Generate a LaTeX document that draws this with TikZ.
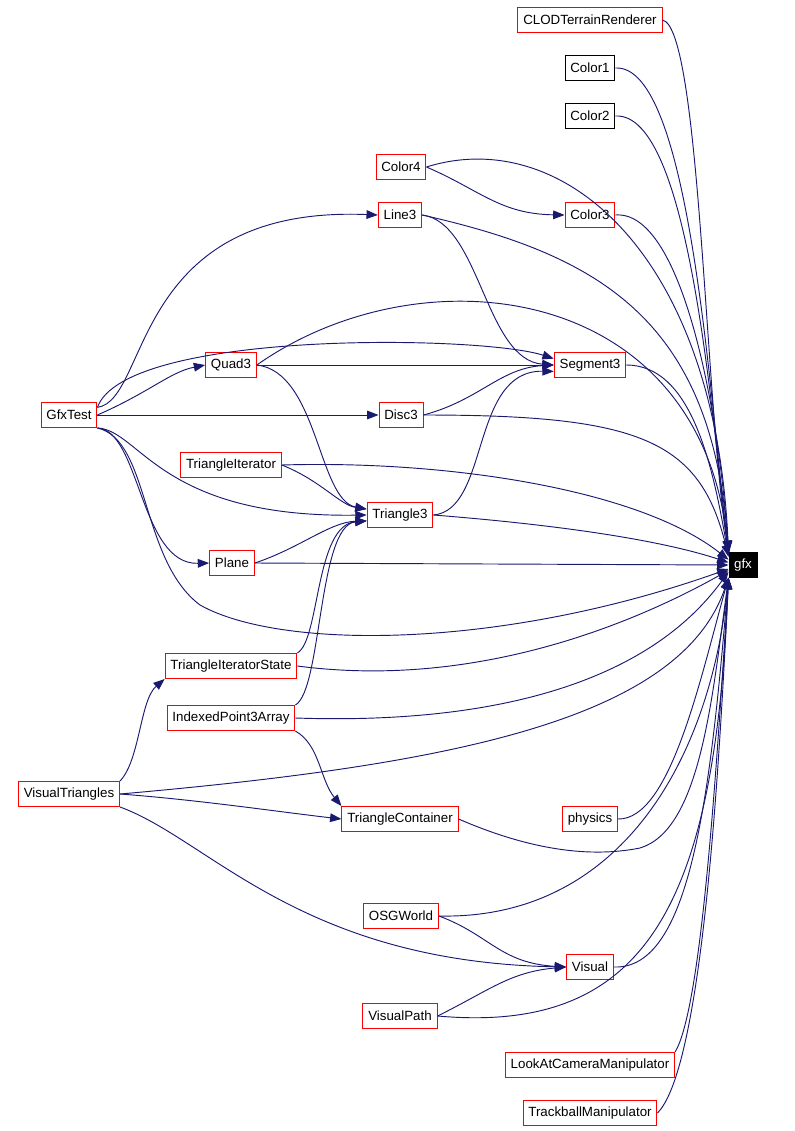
\documentclass[tikz,border=0pt]{standalone}
\usepackage{fontspec}
\setmainfont{Liberation Sans}
\usetikzlibrary{arrows.meta}
\definecolor{edgeblue}{RGB}{25,25,112}
\definecolor{boxred}{RGB}{255,0,0}

\begin{document}
\begin{tikzpicture}[x=0.75pt,y=-0.75pt,
    every node/.style={font=\fontsize{10}{12}\selectfont, inner xsep=4pt, inner ysep=0pt, minimum height=18.75pt},
    cls/.style={draw=boxred, fill=white, line width=0.75pt},
    ext/.style={draw=black, fill=white, line width=0.75pt},
    root/.style={draw=black, fill=black, text=white},
    dep/.style={draw=edgeblue, line width=0.7pt, -{Triangle[length=8.5pt,width=6.5pt]}}]
  \useasboundingbox (0,0) rectangle (795,1131);
  % Used classes
  \node[cls] (clod) at (590,20) {CLODTerrainRenderer};
  \node[ext] (color1) at (590,68) {Color1};
  \node[ext] (color2) at (590,116) {Color2};
  \node[cls] (color4) at (401,167) {Color4};
  \node[cls] (color3) at (590,215) {Color3};
  \node[cls] (line3) at (400,215) {Line3};
  \node[cls] (quad3) at (231,365) {Quad3};
  \node[cls] (segment3) at (590,365) {Segment3};
  \node[cls] (gfxtest) at (69,415) {GfxTest};
  \node[cls] (disc3) at (401,415) {Disc3};
  \node[cls] (triiter) at (231,465) {TriangleIterator};
  \node[cls] (triangle3) at (400,515) {Triangle3};
  \node[cls] (plane) at (232,563) {Plane};
  \node[root] (gfx) at (743,565) {gfx};
  \node[cls] (tristate) at (231,666) {TriangleIteratorState};
  \node[cls] (indexed) at (231,718) {IndexedPoint3Array};
  \node[cls] (vistri) at (69,794) {VisualTriangles};
  \node[cls] (tricont) at (400,819) {TriangleContainer};
  \node[cls] (physics) at (590,819) {physics};
  \node[cls] (osgworld) at (401,916) {OSGWorld};
  \node[cls] (visual) at (590,967) {Visual};
  \node[cls] (vispath) at (400,1016) {VisualPath};
  \node[cls] (lookat) at (590,1065) {LookAtCameraManipulator};
  \node[cls] (trackball) at (590,1113) {TrackballManipulator};
  % Dependencies between the classes
  \draw[dep] (color4.east) .. controls (480,190) and (500,214) .. (color3.west);
  \draw[dep] (gfxtest.15) .. controls (150,400) and (130,205) .. (line3.west);
  \draw[dep] (gfxtest.east) .. controls (150,392) and (170,372) .. (quad3.west);
  \draw[dep] (gfxtest.15) .. controls (125,330) and (480,335) .. (segment3.170);
  \draw[dep] (gfxtest.east) -- (disc3.west);
  \draw[dep] (gfxtest.south east) .. controls (140,430) and (160,518) .. (triangle3.west);
  \draw[dep] (gfxtest.south east) .. controls (140,430) and (140,565) .. (plane.west);
  \draw[dep] (line3.east) .. controls (480,222) and (485,360) .. (segment3.west);
  \draw[dep] (quad3.east) -- (segment3.west);
  \draw[dep] (quad3.east) .. controls (318,372) and (318,500) .. (triangle3.170);
  \draw[dep] (disc3.east) .. controls (480,400) and (500,368) .. (segment3.west);
  \draw[dep] (triiter.east) .. controls (320,480) and (340,505) .. (triangle3.170);
  \draw[dep] (triangle3.east) .. controls (490,510) and (470,370) .. (segment3.190);
  \draw[dep] (plane.east) .. controls (300,548) and (330,522) .. (triangle3.190);
  \draw[dep] (tristate.north east) .. controls (320,640) and (315,525) .. (triangle3.190);
  \draw[dep] (indexed.north east) .. controls (322,690) and (318,525) .. (triangle3.190);
  \draw[dep] (indexed.south east) .. controls (320,745) and (320,780) .. (tricont.north west);
  \draw[dep] (vistri.north east) .. controls (140,760) and (140,700) .. (tristate.south west);
  \draw[dep] (vistri.east) .. controls (200,800) and (280,812) .. (tricont.west);
  \draw[dep] (vistri.south east) .. controls (210,840) and (300,962) .. (visual.west);
  \draw[dep] (osgworld.east) .. controls (490,935) and (500,963) .. (visual.west);
  \draw[dep] (vispath.east) .. controls (490,990) and (510,972) .. (visual.west);
  % Everything uses gfx
  \draw[dep] (clod.east) .. controls (700,28) and (705,400) .. (gfx.north west);
  \draw[dep] (color1.east) .. controls (690,64) and (710,400) .. (gfx.north west);
  \draw[dep] (color2.east) .. controls (690,112) and (712,420) .. (gfx.north west);
  \draw[dep] (color4.east) .. controls (560,125) and (715,250) .. (gfx.north west);
  \draw[dep] (color3.east) .. controls (680,210) and (718,400) .. (gfx.north west);
  \draw[dep] (line3.east) .. controls (600,255) and (712,320) .. (gfx.north west);
  \draw[dep] (quad3.east) .. controls (420,250) and (700,280) .. (gfx.north west);
  \draw[dep] (segment3.east) .. controls (690,365) and (712,460) .. (gfx.150);
  \draw[dep] (disc3.east) .. controls (640,415) and (700,440) .. (gfx.150);
  \draw[dep] (triiter.east) .. controls (450,460) and (640,490) .. (gfx.160);
  \draw[dep] (triangle3.east) .. controls (560,525) and (660,540) .. (gfx.170);
  \draw[dep] (plane.east) -- (gfx.west);
  \draw[dep] (gfxtest.south east) .. controls (150,440) and (140,560) .. (200,605)
    .. controls (280,650) and (500,650) .. (gfx.195);
  \draw[dep] (tristate.east) .. controls (480,690) and (640,620) .. (gfx.200);
  \draw[dep] (indexed.east) .. controls (500,725) and (650,680) .. (gfx.205);
  \draw[dep] (vistri.east) .. controls (450,765) and (680,720) .. (gfx.south west);
  \draw[dep] (tricont.east) .. controls (530,850) and (590,858) .. (640,848)
    .. controls (700,830) and (712,700) .. (gfx.south west);
  \draw[dep] (physics.east) .. controls (670,820) and (700,680) .. (gfx.south west);
  \draw[dep] (osgworld.east) .. controls (620,920) and (710,760) .. (gfx.south west);
  \draw[dep] (visual.east) .. controls (690,970) and (710,800) .. (gfx.south west);
  \draw[dep] (vispath.east) .. controls (650,1035) and (715,900) .. (gfx.south west);
  \draw[dep] (lookat.north east) .. controls (700,1010) and (715,800) .. (gfx.south west);
  \draw[dep] (trackball.east) .. controls (700,1070) and (718,800) .. (gfx.south west);
\end{tikzpicture}
\end{document}
